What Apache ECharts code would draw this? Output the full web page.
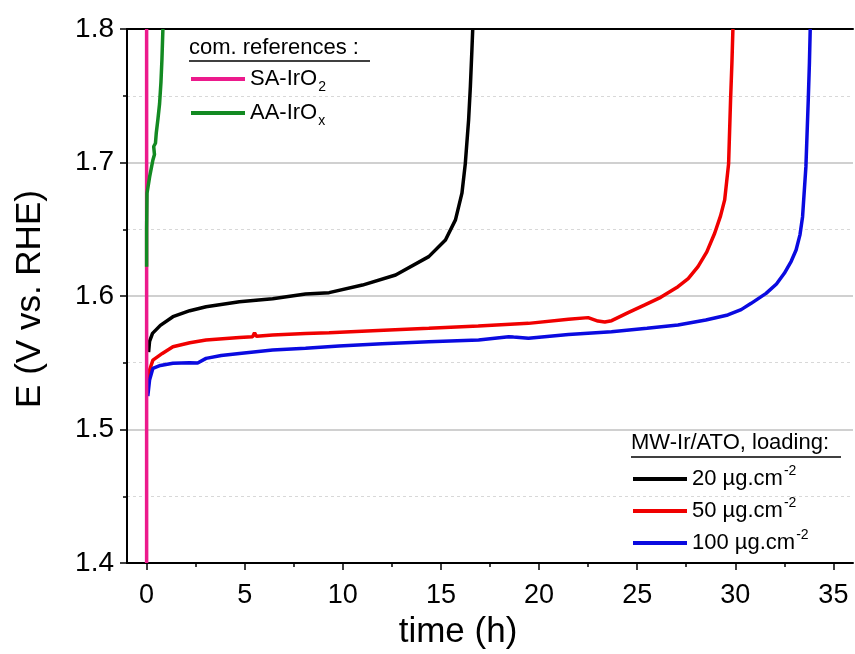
<!DOCTYPE html>
<html>
<head>
<meta charset="utf-8">
<script src="https://cdn.jsdelivr.net/npm/echarts@6/dist/echarts.min.js"></script>
<style>
html,body{margin:0;padding:0;background:#fff;}
#chart{width:855px;height:654px;}
</style>
</head>
<body>
<div id="chart"></div>
<script>
// ---- data (time in h, E in V vs. RHE) ----
var xTicks = [0, 5, 10, 15, 20, 25, 30, 35];
var xMinorTicks = [2.5, 7.5, 12.5, 17.5, 22.5, 27.5, 32.5];
var yTicks = [1.4, 1.5, 1.6, 1.7, 1.8];

var seriesNames = ['20 µg.cm-2', '50 µg.cm-2', '100 µg.cm-2', 'SA-IrO2', 'AA-IrOx'];

var load20 = [
  [0.1, 1.558], [0.15, 1.566], [0.3, 1.572], [0.7, 1.578], [1.34, 1.5845], [2.2, 1.589],
  [3.03, 1.592], [4.73, 1.5957], [6.42, 1.598], [8.1, 1.6015], [9.3, 1.6025],
  [11.0, 1.6082], [12.69, 1.6157], [14.38, 1.6295], [15.23, 1.642], [15.74, 1.657],
  [16.07, 1.677], [16.24, 1.699], [16.41, 1.732], [16.5, 1.757], [16.58, 1.785], [16.62, 1.8]
];
var load50 = [
  [0.08, 1.535], [0.15, 1.5446], [0.32, 1.552], [0.8, 1.557], [1.34, 1.562], [2.2, 1.565],
  [3.03, 1.567], [4.73, 1.569], [5.4, 1.5695], [5.5, 1.5725], [5.6, 1.5698], [6.42, 1.5708],
  [8.1, 1.572], [9.3, 1.5725], [11.8, 1.5742], [14.38, 1.5758], [16.9, 1.5775], [19.46, 1.5795],
  [21.5, 1.5825], [22.5, 1.5838], [23.0, 1.5812], [23.35, 1.5805], [23.7, 1.5815],
  [24.54, 1.5875], [25.39, 1.5933], [26.2, 1.599], [27.08, 1.607], [27.6, 1.613],
  [28.1, 1.622], [28.55, 1.633], [28.95, 1.647], [29.25, 1.66], [29.46, 1.672],
  [29.66, 1.699], [29.76, 1.7468], [29.83, 1.775], [29.88, 1.8]
];
var load100 = [
  [0.06, 1.525], [0.15, 1.537], [0.32, 1.5458], [0.7, 1.548], [1.34, 1.5496], [2.18, 1.55],
  [2.6, 1.5498], [3.03, 1.5533], [3.8, 1.5555], [4.73, 1.557], [6.42, 1.5596],
  [8.1, 1.5608], [9.8, 1.5625], [12.0, 1.5643], [14.38, 1.5658], [16.92, 1.567],
  [18.45, 1.5695], [18.7, 1.5692], [19.46, 1.5683], [21.5, 1.5712], [23.69, 1.5733],
  [25.5, 1.5758], [27.08, 1.5783], [28.5, 1.582], [29.62, 1.5858], [30.3, 1.5898],
  [30.81, 1.5945], [31.57, 1.602], [32.1, 1.609], [32.5, 1.617], [32.85, 1.626],
  [33.1, 1.6345], [33.3, 1.646], [33.43, 1.6594], [33.6, 1.6969], [33.72, 1.7468],
  [33.78, 1.775], [33.82, 1.8]
];
var saIrO2 = [[0.0, 1.4], [0.0, 1.8]];
var aaIrOx = [
  [0.0, 1.622], [0.0, 1.65], [0.02, 1.677], [0.15, 1.689], [0.32, 1.7019], [0.4, 1.706],
  [0.36, 1.712], [0.45, 1.7144], [0.49, 1.7219], [0.58, 1.733], [0.66, 1.744],
  [0.73, 1.76], [0.78, 1.777], [0.83, 1.8]
];

var colors = ['#000000', '#f00000', '#0a0ae0', '#ec1a8c', '#138a22'];

var FONT = 'Liberation Sans, Arial, sans-serif';

function legendFmt(name) {
  if (name === 'SA-IrO2') return '{a|SA-IrO}{sub|2}';
  if (name === 'AA-IrOx') return '{a|AA-IrO}{sub|x}';
  var parts = name.split(' ');
  return '{a|' + parts[0] + ' ' + parts[1].replace('-2', '') + '}{sup|-2}';
}
var richStyle = {
  a: {fontSize: 22, fontFamily: FONT, color: '#000', lineHeight: 26},
  sub: {fontSize: 14, fontFamily: FONT, color: '#000', lineHeight: 14, padding: [16, 0, 0, 1]},
  sup: {fontSize: 14, fontFamily: FONT, color: '#000', lineHeight: 14, padding: [0, 0, 16, 1]}
};

var chart = echarts.init(document.getElementById('chart'), null, {renderer: 'canvas'});

var datasets = [load20, load50, load100, saIrO2, aaIrOx];
var series = datasets.map(function (d, i) {
  return {
    name: seriesNames[i],
    type: 'line',
    data: d,
    symbol: 'none',
    showSymbol: false,
    smooth: false,
    clip: true,
    animation: false,
    z: 2 + i,
    lineStyle: {color: colors[i], width: 3.5},
    itemStyle: {color: colors[i]}
  };
});

var option = {
  backgroundColor: '#fff',
  animation: false,
  grid: {left: 127, right: 2, top: 29, bottom: 91, containLabel: false},
  xAxis: [
    {
      type: 'value', min: -1, max: 36, position: 'bottom',
      axisLine: {show: true, onZero: false, lineStyle: {color: '#000', width: 2}},
      axisTick: {show: true, inside: false, length: 7, customValues: xTicks, lineStyle: {color: '#000', width: 1.5}},
      axisLabel: {show: true, customValues: xTicks, fontSize: 27, fontFamily: 'Liberation Sans Narrow, ' + FONT, color: '#000', margin: 19},
      splitLine: {show: false}
    },
    {
      type: 'value', min: -1, max: 36, position: 'bottom',
      axisLine: {show: false, onZero: false},
      axisTick: {show: true, inside: false, length: 4, customValues: xMinorTicks, lineStyle: {color: '#000', width: 1.5}},
      axisLabel: {show: false},
      splitLine: {show: false}
    },
    {
      type: 'value', min: -1, max: 36, position: 'top',
      axisLine: {show: true, onZero: false, lineStyle: {color: '#000', width: 2}},
      axisTick: {show: false}, axisLabel: {show: false}, splitLine: {show: false}
    }
  ],
  yAxis: [{
    type: 'value', min: 1.4, max: 1.8, interval: 0.1,
    axisLine: {show: true, onZero: false, lineStyle: {color: '#000', width: 2}},
    axisTick: {show: true, inside: false, length: 7, lineStyle: {color: '#000', width: 1.5}},
    minorTick: {show: true, splitNumber: 2, length: 4, lineStyle: {color: '#000', width: 1.5}},
    axisLabel: {
      fontSize: 28, fontFamily: FONT, color: '#000', margin: 13,
      formatter: function (v) { return v.toFixed(1); }
    },
    splitLine: {show: true, lineStyle: {color: '#c0c0c0', width: 1.5}},
    minorSplitLine: {show: true, lineStyle: {color: '#d8d8d8', width: 1, type: [3, 3]}}
  }],
  legend: [
    {
      data: ['SA-IrO2', 'AA-IrOx'],
      orient: 'vertical', left: 186, top: 59,
      icon: 'rect', itemWidth: 54, itemHeight: 4, itemGap: 4,
      formatter: legendFmt,
      textStyle: {rich: richStyle},
      selectedMode: false
    },
    {
      data: ['20 µg.cm-2', '50 µg.cm-2', '100 µg.cm-2'],
      orient: 'vertical', left: 628, top: 459,
      icon: 'rect', itemWidth: 54, itemHeight: 4, itemGap: 2,
      formatter: legendFmt,
      textStyle: {rich: richStyle},
      selectedMode: false
    }
  ],
  graphic: [
    {type: 'text', left: 189, top: 37, style: {text: 'com. references :', font: '22px ' + FONT, fill: '#000'}},
    {type: 'line', shape: {x1: 189, y1: 61, x2: 370, y2: 61}, style: {stroke: '#000', lineWidth: 1.5}},
    {type: 'text', left: 631, top: 432, style: {text: 'MW-Ir/ATO, loading:', font: '22px ' + FONT, fill: '#000'}},
    {type: 'line', shape: {x1: 631, y1: 457, x2: 841, y2: 457}, style: {stroke: '#000', lineWidth: 1.5}},
    {type: 'text', x: 458, y: 632, style: {text: 'time (h)', font: '35px ' + FONT, fill: '#000', align: 'center', verticalAlign: 'middle'}},
    {type: 'text', x: 30, y: 299, rotation: Math.PI / 2, style: {text: 'E (V vs. RHE)', font: '35px ' + FONT, fill: '#000', align: 'center', verticalAlign: 'middle'}}
  ],
  series: series
};
chart.setOption(option);
</script>
</body>
</html>
